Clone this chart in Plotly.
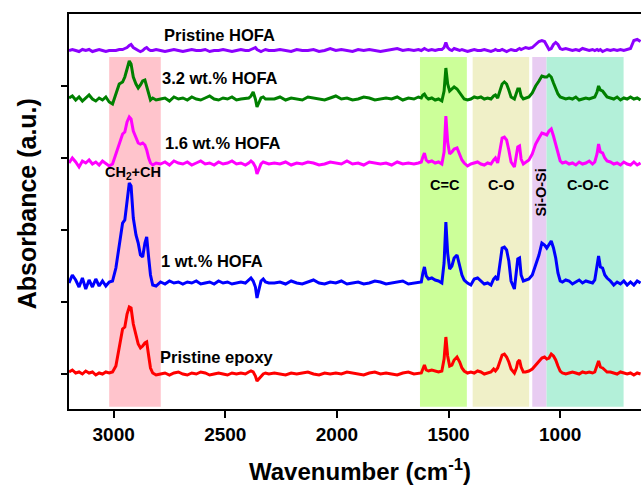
import plotly.graph_objects as go

# ---------------- data ----------------
wavenumber = [
    3200, 3185, 3170, 3155, 3140, 3125, 3110, 3095, 3080, 3065, 3050, 3035, 3020,
    3005, 2990, 2975, 2960, 2950, 2940, 2930, 2922, 2912, 2900, 2890, 2880, 2870, 2860, 2852, 2843, 2835, 2825, 2810,
    2790, 2770, 2750, 2730, 2710, 2690, 2670, 2650, 2630, 2610, 2590, 2570, 2550, 2530, 2510, 2490, 2470, 2450, 2430, 2410,
    2395, 2385, 2375, 2365, 2358, 2350, 2340, 2330, 2320, 2305,
    2280, 2255, 2230, 2205, 2180, 2155, 2130, 2105, 2080, 2055, 2030, 2005, 1980, 1955, 1930, 1905, 1880, 1855, 1830, 1805,
    1780, 1755, 1730, 1705, 1680, 1655, 1635,
    1622, 1615, 1608, 1600, 1590, 1575, 1560, 1545, 1530, 1520, 1512, 1504, 1495, 1485, 1475, 1462, 1450, 1440, 1430, 1415, 1400,
    1385, 1370, 1355, 1340, 1325, 1310, 1298, 1290, 1280, 1270, 1260, 1250, 1240, 1230, 1220, 1205, 1196, 1190, 1182, 1175, 1165, 1155, 1140,
    1125, 1110, 1095, 1082, 1070, 1060, 1050, 1040, 1030, 1020, 1010, 1000, 990, 975, 960, 945, 930, 915, 900, 885,
    870, 855, 845, 835, 828, 820, 810, 800, 790, 775, 760, 745, 730, 715, 700, 685, 670, 655, 640,
]

pristine_epoxy = [
    2, 4, 1, 2, 0, 3, 1, 2, -1, 1, 0, 2, 1,
    2, 8, 25, 45, 47, 60, 67, 66, 50, 38, 30, 26, 28, 31, 32, 18, 6, 1, -1,
    0, 1, -1, 1, 2, 0, -1, 1, 0, 2, 1, -1, 0, 1, 0, -1, 1, 0, 1, 0,
    2, 3, 2, -2, -7, -5, -2, 0, 1, 0,
    1, 0, -1, 1, 0, 1, 2, 0, -1, 1, 0, 1, 0, 2, 1, 0, -1, 1, 2, 0, 1, 0, -1, 1, 2, 0, 1,
    1, 5, 9, 4, 3, 4, 3, 2, 3, 15, 37, 18, 8, 9, 14, 17, 12, 6, 3, 1, 2,
    1, 3, 2, 0, 1, 2, 5, 3, 6, 13, 19, 20, 17, 12, 5, 1, 6, 12, 14, 7, 2, 2, 3,
    5, 9, 13, 16, 17, 15, 16, 20, 18, 14, 8, 3, 1, 0, 1, 2, 1, 0, 2, 1,
    2, 1, 2, 8, 13, 7, 6, 4, 2, 2, 1, 0, 2, 1, 0, 1, -1, 1, 0,
]

hofa_1 = [
    0, 8, 3, -4, 5, -6, 3, -4, 4, -3, 2, -3, 1,
    2, 15, 40, 60, 63, 85, 100, 97, 65, 48, 40, 28, 26, 40, 46, 25, 8, -2, -3,
    1, -1, 2, 0, 1, -1, 1, 0, 2, -1, 0, 1, -1, 2, 0, 1, -1, 0, 1, 0,
    3, 5, 2, -4, -15, -8, 2, 4, 1, 0,
    0, 1, -1, 2, 0, -1, 1, 3, 0, -1, 1, 0, 2, -1, 0, 1, -1, 0, 2, 1, -1, 0, 1, 2, -1, 0, 1,
    1, 10, 16, 7, 4, 5, 3, 2, 0, 20, 61, 30, 14, 17, 25, 28, 18, 8, 3, 0, -2,
    4, 5, 2, -1, 0, -2, 4, 6, 3, 20, 35, 36, 33, 22, 2, -6, 10, 24, 25, 8, 2, 3, 4,
    8, 18, 28, 40, 38, 35, 38, 42, 35, 25, 10, 2, 1, 3, 2, -1, 1, 3, 0, 2,
    1, 0, 3, 15, 27, 16, 15, 8, 5, 2, -2, 1, -1, 2, -2, 1, -2, 2, 0,
]

hofa_1_6 = [
    1, 6, 2, -3, 3, 1, 4, 0, 2, -1, 3, 0, -2,
    0, 10, 22, 30, 32, 42, 47, 45, 33, 26, 21, 20, 21, 19, 14, 6, 1, -1, 1,
    0, 2, -1, 3, 1, 0, 2, -1, 1, 3, 0, 1, -1, 2, 0, 1, 3, 0, 1, -1,
    1, 3, 1, -3, -10, -5, 0, 2, 1, 0,
    1, 0, 2, -1, 1, 0, 2, 1, -1, 0, 2, 1, 0, 3, 0, 1, -1, 2, 1, 0, 1, -1, 2, 0, 1, 0, 1,
    2, 7, 11, 4, 2, 3, 1, 2, 0, 12, 48, 22, 10, 12, 15, 16, 10, 4, 1, -2, 0,
    1, 2, 0, -1, 1, 0, 4, 6, 1, 14, 26, 27, 24, 14, 2, -3, 8, 17, 18, 5, 0, 2, 4,
    10, 20, 26, 31, 30, 29, 33, 35, 28, 20, 10, 3, 1, 2, 0, 1, -1, 2, 0, 1,
    3, 0, 2, 10, 20, 12, 11, 6, 3, 2, 0, 1, -1, 2, 0, -1, 2, -1, 1,
]

hofa_3_2 = [
    1, 3, -1, 2, -2, 1, 4, 0, -2, 1, -1, 2, -3,
    -5, 5, 15, 17, 22, 30, 38, 35, 22, 15, 11, 14, 18, 19, 12, 3, -1, 1, -1,
    0, 1, -2, 2, 0, 1, -1, 2, 0, -1, 1, 3, 0, -1, 1, 0, 2, -1, 0, 1,
    1, 3, 7, 0, -8, -4, 1, 2, 0, 0,
    0, 2, -1, 1, 0, -1, 2, 1, 0, -1, 1, 3, 0, 1, -1, 0, 2, 1, -1, 0, 1, 0, 2, -1, 1, 0, 2,
    1, 4, 5, 2, 0, 1, -1, 0, -2, 8, 31, 15, 8, 10, 12, 10, 6, 3, 0, -1, 0,
    2, 1, 2, 0, 1, 0, 3, 4, 1, 8, 15, 17, 15, 9, 2, 0, 6, 10, 10, 3, 0, 1, 2,
    6, 13, 18, 23, 22, 22, 24, 22, 16, 10, 5, 2, 1, 0, 1, 0, 2, -1, 0, 1,
    0, 1, 2, 7, 13, 9, 8, 5, 2, 1, 0, 2, -1, 1, 0, 2, 0, 1, -1,
]

pristine_hofa = [
    0, 1, 0, -1, 1, 0, 1, -1, 0, 1, 0, -1, 0,
    0, 0, 1, 1, 2, 3, 5, 6, 3, 1, 0, -1, 0, 2, 3, 1, 0, 0, 1,
    0, -1, 0, 1, 0, -1, 0, 1, 0, 0, 1, -1, 0, 0, 1, 0, -1, 0, 1, 0,
    0, 1, 2, 3, 1, 0, -1, 0, 1, 0,
    0, 1, 0, -1, 1, 0, 0, 1, -1, 0, 2, 0, 1, 0, -1, 1, 0, 1, 0, -1, 0, 1, 2, 0, 1, 0, 1,
    0, 1, 2, 1, 0, 1, 0, 1, 1, 3, 8, 3, 1, 0, 2, 1, 0, 1, 0, -1, 0,
    1, 0, 0, 1, 0, -1, 0, 1, 0, 0, 1, 0, -1, 0, 1, 0, 0, 1, 2, 1, 2, 3, 2,
    3, 6, 9, 10, 9, 5, 1, 2, 6, 8, 6, 2, 1, 2, 1, 0, 1, 0, 2, 1,
    0, 1, 0, 1, 0, 1, -1, 0, 1, 0, 1, 0, 1, 0, 1, 2, 10, 11, 9,
]

series_names = ["Pristine epoxy", "1 wt.% HOFA", "1.6 wt.% HOFA", "3.2 wt.% HOFA", "Pristine HOFA"]
series_values = [pristine_epoxy, hofa_1, hofa_1_6, hofa_3_2, pristine_hofa]
stack_offsets = [0, 91, 210, 275, 323.5]

band_labels = ["CH<sub>2</sub>+CH", "C=C", "C-O", "Si-O-Si", "C-O-C"]
band_ranges = [(3020, 2789), (1628, 1418), (1392, 1139), (1125, 1061), (1061, 716)]

x_tick_values = [3000, 2500, 2000, 1500, 1000]

for s in series_values:
    assert len(s) == len(wavenumber), len(s)

# ---------------- styling ----------------
FONT = "Liberation Sans, Arial, sans-serif"
line_colors = ["#ff0000", "#0000ff", "#ff00ff", "#008000", "#8c00ff"]
band_colors = ["#ffc4cc", "#ccff99", "#f0f0c8", "#e8ccf2", "#b3f0d9"]

fig = go.Figure()

band_bottom, band_top = -32.7, 317
for (x0, x1), col in zip(band_ranges, band_colors):
    fig.add_shape(type="rect", xref="x", yref="y", x0=x0, x1=x1, y0=band_bottom, y1=band_top,
                  fillcolor=col, line=dict(width=0), layer="below")

for name, vals, off, col in zip(series_names, series_values, stack_offsets, line_colors):
    fig.add_trace(go.Scatter(x=wavenumber, y=[v + off for v in vals], mode="lines", name=name,
                             line=dict(color=col, width=3), hoverinfo="skip"))

# series labels
label_pos = {
    "Pristine HOFA": (2784, 339),
    "3.2 wt.% HOFA": (2792, 296),
    "1.6 wt.% HOFA": (2778, 231),
    "1 wt.% HOFA": (2796, 113),
    "Pristine epoxy": (2800, 17),
}
for name in series_names:
    x, y = label_pos[name]
    fig.add_annotation(x=x, y=y, xref="x", yref="y", text=name, showarrow=False,
                       xanchor="left", yanchor="middle",
                       font=dict(family=FONT, size=16.5, color="black", weight="bold"))

# band labels
band_label_pos = [(2913, 201, 0), (1516, 189, 0), (1265, 189, 0), (1088, 181, -90), (877, 189, 0)]
for text, (x, y, ang) in zip(band_labels, band_label_pos):
    fig.add_annotation(x=x, y=y, xref="x", yref="y", text=text, showarrow=False,
                       xanchor="center", yanchor="middle", textangle=ang,
                       font=dict(family=FONT, size=14.5, color="black", weight="bold"))

# axis titles
fig.add_annotation(x=0.508, y=-0.154, xref="paper", yref="paper",
                   text="Wavenumber (cm<sup>-1</sup>)", showarrow=False,
                   xanchor="center", yanchor="middle",
                   font=dict(family=FONT, size=24, color="black", weight="bold"))
fig.add_annotation(x=-0.074, y=0.52, xref="paper", yref="paper",
                   text="Absorbance (a.u.)", showarrow=False, textangle=-90,
                   xanchor="center", yanchor="middle",
                   font=dict(family=FONT, size=25, color="black", weight="bold"))

fig.update_layout(
    width=641, height=487,
    margin=dict(l=69, r=0, t=14, b=78),
    plot_bgcolor="white", paper_bgcolor="white",
    showlegend=False,
    xaxis=dict(range=[3200, 638], tickvals=x_tick_values, ticks="outside", ticklen=7, tickwidth=2,
               tickcolor="black", showline=True, linewidth=2, linecolor="black", mirror=True,
               showgrid=False, zeroline=False,
               tickfont=dict(family=FONT, size=19, color="black", weight="bold")),
    yaxis=dict(range=[-35, 360], tickvals=[0, 72, 144, 216, 288], showticklabels=False,
               ticks="outside", ticklen=6, tickwidth=2, tickcolor="black",
               showline=True, linewidth=2, linecolor="black",
               showgrid=False, zeroline=False),
)

fig.write_html("out.html", config={"displayModeBar": False},
               post_script="document.body.style.margin='0';document.body.style.overflow='hidden';")
